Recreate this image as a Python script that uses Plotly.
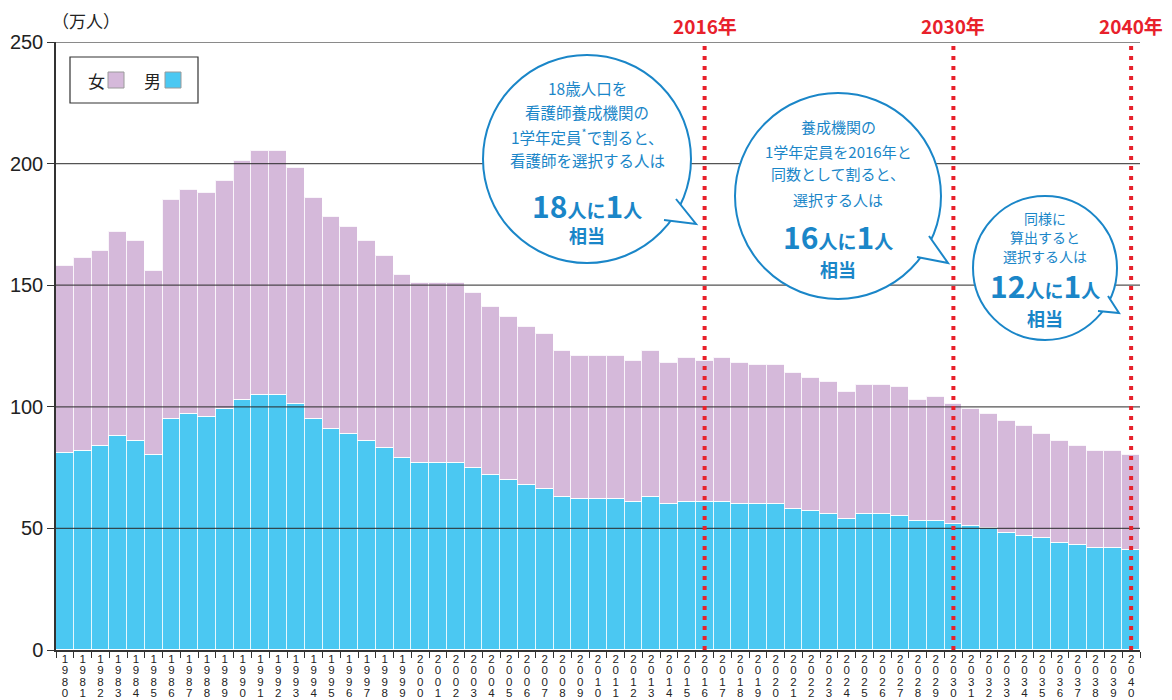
import plotly.graph_objects as go

# ---------------- data ----------------
years = [str(y) for y in range(1980, 2041)]
total = [158, 161, 164, 172, 168, 156, 185, 189, 188, 193,
         201, 205, 205, 198, 186, 178, 174, 168, 162, 154,
         151, 151, 151, 147, 141, 137, 133, 130, 123, 121,
         121, 121, 119, 123, 118, 120, 119, 120, 118, 117,
         117, 114, 112, 110, 106, 109, 109, 108, 103, 104,
         101, 99, 97, 94, 92, 89, 86, 84, 82, 82,
         80]
male = [81, 82, 84, 88, 86, 80, 95, 97, 96, 99,
        103, 105, 105, 101, 95, 91, 89, 86, 83, 79,
        77, 77, 77, 75, 72, 70, 68, 66, 63, 62,
        62, 62, 61, 63, 60, 61, 61, 61, 60, 60,
        60, 58, 57, 56, 54, 56, 56, 55, 53, 53,
        52, 51, 50, 48, 47, 46, 44, 43, 42, 42,
        41]
female = [t - m for t, m in zip(total, male)]
y_ticks = [0, 50, 100, 150, 200, 250]
marker_years = ["2016", "2030", "2040"]

# ---------------- style ----------------
FEMALE_C = "#D5B9DA"
MALE_C = "#4BC8F2"
BLUE = "#1A86C8"
RED = "#E8212B"
FONT = "Noto Sans CJK JP"
OFF = 8                      # page body margin
W, H = 1172 - OFF, 700 - OFF
L, T = 56 - OFF, 42 - OFF
R, B = W - (1140 - OFF), H - (650 - OFF)
PW, PH = W - L - R, H - T - B


def px(x):  # screen x -> paper
    return (x - OFF - L) / PW


def py(y):  # screen y -> paper
    return (H - B - (y - OFF)) / PH


fig = go.Figure()
fig.add_trace(go.Bar(x=years, y=male, name="男", marker=dict(color=MALE_C, line=dict(color="rgba(255,255,255,0.85)", width=1.3))))
fig.add_trace(go.Bar(x=years, y=female, name="女", marker=dict(color=FEMALE_C, line=dict(color="rgba(255,255,255,0.85)", width=1.3))))
# placeholder traces so that the digit-row axes are drawn
for k in range(4):
    fig.add_trace(go.Scatter(x=[None], y=[None], xaxis="x%d" % (k + 2), yaxis="y",
                             mode="markers", hoverinfo="skip", showlegend=False))

shapes = []
annotations = []

# gridlines on top of bars
for v in y_ticks[1:-1]:
    shapes.append(dict(type="line", xref="paper", yref="y", x0=0, x1=1, y0=v, y1=v,
                       line=dict(color="rgba(40,40,40,0.8)", width=1.3), layer="above"))
shapes.append(dict(type="line", xref="paper", yref="y", x0=0, x1=1, y0=250, y1=250,
                   line=dict(color="#8a8a8a", width=2), layer="above"))

# red dotted marker lines (x given as category index)
for yr in marker_years:
    i = years.index(yr)
    shapes.append(dict(type="line", xref="x", yref="y", x0=i, x1=i, y0=0, y1=250,
                       line=dict(color=RED, width=4, dash="4px,6px"), layer="above"))
    annotations.append(dict(x=i, xref="x", y=py(25), yref="paper", text="<b>%s年</b>" % yr,
                            showarrow=False, font=dict(family=FONT, size=19, color=RED),
                            xanchor="center", yanchor="middle"))


def bubble(cx, cy, r, b1, tip, b2):
    shapes.append(dict(type="circle", xref="paper", yref="paper",
                       x0=px(cx - r), x1=px(cx + r), y0=py(cy + r), y1=py(cy - r),
                       fillcolor="white", line=dict(color=BLUE, width=2), layer="above"))
    path = "M %f %f L %f %f L %f %f" % (px(b1[0]), py(b1[1]), px(tip[0]), py(tip[1]), px(b2[0]), py(b2[1]))
    shapes.append(dict(type="path", xref="paper", yref="paper", path=path,
                       fillcolor="white", line=dict(color=BLUE, width=2), layer="above"))


def text(x, y, s, size, bold=False):
    if bold:
        s = "<b>%s</b>" % s
    annotations.append(dict(x=px(x), y=py(y), xref="paper", yref="paper", text=s, showarrow=False,
                            font=dict(family=FONT, size=size, color=BLUE),
                            xanchor="center", yanchor="middle"))


def big(n1, n2):
    return ("<b><span style='font-size:30px'>%s</span>人に<span style='font-size:30px'>%s</span>人</b>" % (n1, n2))


bubble(587, 159, 104, (676, 199), (696, 224), (664, 220))
bubble(838, 196, 103, (929, 236), (948, 263), (917, 257))
bubble(1045, 268, 72, (1108, 296), (1119, 313), (1098, 311))

# bubble 1 text
text(587, 88, "18歳人口を", 15.5)
text(587, 112, "看護師養成機関の", 15.5)
text(587, 136, "1学年定員<sup>*</sup>で割ると、", 15.5)
text(587, 160, "看護師を選択する人は", 15.5)
text(587, 205, big("18", "1"), 19)
text(587, 235, "相当", 18, bold=True)
# bubble 2 text
text(838, 127, "養成機関の", 15)
text(838, 151, "1学年定員を2016年と", 15)
text(838, 174, "同数として割ると、", 15)
text(838, 199, "選択する人は", 15)
text(838, 236, big("16", "1"), 19)
text(838, 269, "相当", 18, bold=True)
# bubble 3 text
text(1045, 218, "同様に", 14)
text(1045, 237, "算出すると", 14)
text(1045, 256, "選択する人は", 14)
text(1045, 285, big("12", "1"), 19)
text(1045, 318, "相当", 18, bold=True)

# custom legend box (text before swatch, as in the reference)
shapes.append(dict(type="rect", xref="paper", yref="paper", x0=px(70), x1=px(198), y0=py(103), y1=py(57),
                   fillcolor="white", line=dict(color="#333333", width=1.2), layer="above"))
shapes.append(dict(type="rect", xref="paper", yref="paper", x0=px(108), x1=px(124), y0=py(88), y1=py(72),
                   fillcolor=FEMALE_C, line=dict(color="#9a9a9a", width=1), layer="above"))
shapes.append(dict(type="rect", xref="paper", yref="paper", x0=px(165), x1=px(181), y0=py(88), y1=py(72),
                   fillcolor=MALE_C, line=dict(color="#9a9a9a", width=1), layer="above"))
annotations.append(dict(x=px(96), y=py(80), xref="paper", yref="paper", text="女", showarrow=False,
                        font=dict(family=FONT, size=17, color="#222"), xanchor="center", yanchor="middle"))
annotations.append(dict(x=px(152), y=py(80), xref="paper", yref="paper", text="男", showarrow=False,
                        font=dict(family=FONT, size=17, color="#222"), xanchor="center", yanchor="middle"))

# unit label
annotations.append(dict(x=px(50), y=py(20), xref="paper", yref="paper", text="（万人）", showarrow=False,
                        font=dict(family=FONT, size=17, color="#222"), xanchor="left", yanchor="middle"))

layout_extra = {}
# stacked-digit year labels: one overlaid axis per digit row
for k in range(4):
    layout_extra["xaxis%d" % (k + 2)] = dict(
        overlaying="x", anchor="y", side="bottom", range=[-0.5, len(years) - 0.5],
        tickmode="array", tickvals=list(range(len(years))), ticktext=[y[k] for y in years],
        ticks="", showline=False, showgrid=False, zeroline=False, automargin=False,
        ticklabelstandoff=round(k * 11.4), fixedrange=True,
        tickfont=dict(family="Liberation Sans", size=11.5, color="#222"))

fig.update_layout(
    width=W, height=H,
    margin=dict(l=L, r=R, t=T, b=B, autoexpand=False),
    barmode="stack", bargap=0,
    showlegend=False,
    plot_bgcolor="white", paper_bgcolor="white",
    shapes=shapes, annotations=annotations,
    xaxis=dict(type="category", categoryorder="array", categoryarray=years,
               showticklabels=False, automargin=False,
               tickson="boundaries", ticks="outside", ticklen=6, tickcolor="#333",
               showline=True, linecolor="#333", linewidth=1.5, showgrid=False,
               range=[-0.5, len(years) - 0.5]),
    yaxis=dict(range=[0, 250], tickvals=y_ticks, ticks="outside", ticklen=7, tickcolor="#333",
               automargin=False,
               showline=True, linecolor="#333", linewidth=1.5, showgrid=False, zeroline=False,
               tickfont=dict(family="Liberation Sans", size=20, color="#222")),
    **layout_extra,
)

fig.write_html("out.html", config={"displayModeBar": False})
